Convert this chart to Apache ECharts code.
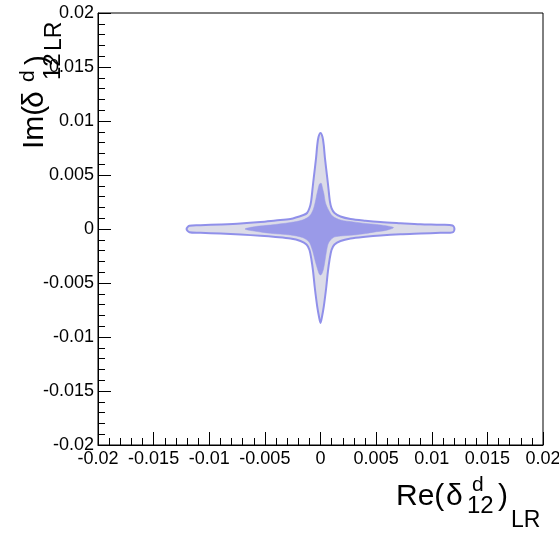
<!DOCTYPE html>
<html>
<head>
<meta charset="utf-8">
<script src="https://cdn.jsdelivr.net/npm/echarts@6/dist/echarts.min.js"></script>
<style>html,body{margin:0;padding:0;background:#fff;}#c{width:559px;height:533px;}</style>
</head>
<body>
<div id="c"></div>
<script>
// Axis ticks
const axisMin = -0.02, axisMax = 0.02, axisStep = 0.005;

// Outer (light) contour outline, data coordinates
const outerX = [
  0.01204, 0.01187, 0.01079, 0.00899, 0.00719, 0.00539, 0.00404, 0.0027, 0.0018, 0.00126, 0.00099, 0.00084, 0.0007, 0.00061, 0.0004, 0.00029, 0.00018, 0,
  -0.00018, -0.00029, -0.0004, -0.00061, -0.0007, -0.00084, -0.00099, -0.00121, -0.00153, -0.0027, -0.00404, -0.00539, -0.00719, -0.00899, -0.01079, -0.01178, -0.01204,
  -0.01178, -0.01079, -0.00899, -0.00719, -0.00539, -0.00404, -0.0027, -0.0018, -0.00126, -0.00099, -0.00081, -0.00067, -0.00052, -0.00029, -0.00013, 0,
  0.00013, 0.00029, 0.00052, 0.00067, 0.00081, 0.00099, 0.00126, 0.0018, 0.0027, 0.00404, 0.00539, 0.00719, 0.00899, 0.01079, 0.01187
];
const outerY = [
  0, 0.00033, 0.00039, 0.00044, 0.00054, 0.00065, 0.00077, 0.00093, 0.00116, 0.00148, 0.00194, 0.00259, 0.00389, 0.00472, 0.00657, 0.00778, 0.00852, 0.00889,
  0.00852, 0.00778, 0.00657, 0.00472, 0.00389, 0.00259, 0.00194, 0.00148, 0.0013, 0.00093, 0.00079, 0.00065, 0.00051, 0.00042, 0.00035, 0.0003, 0,
  -0.0003, -0.00035, -0.00042, -0.00051, -0.00063, -0.00074, -0.00088, -0.00111, -0.00144, -0.00194, -0.00287, -0.00389, -0.00537, -0.00722, -0.00815, -0.0087,
  -0.00815, -0.00722, -0.00537, -0.00389, -0.00287, -0.00194, -0.00144, -0.00111, -0.00088, -0.00072, -0.0006, -0.00049, -0.00042, -0.00035, -0.00031
];

// Inner (dark) contour outline, data coordinates
const innerX = [
  0.00656, 0.00503, 0.00404, 0.00297, 0.0018, 0.00108, 0.00072, 0.00045, 0.00031, 0.00016, 0.00007,
  -0.00009, -0.00022, -0.00036, -0.00049, -0.00067, -0.00099, -0.00162, -0.0027, -0.00449, -0.00584, -0.00679,
  -0.00584, -0.00449, -0.0027, -0.00162, -0.00103, -0.00076, -0.00063, -0.00045, -0.00027, -0.00011, 0,
  0.00011, 0.00027, 0.0004, 0.00054, 0.00072, 0.00115, 0.0018, 0.00297, 0.00404, 0.00503, 0.00584
];
const innerY = [
  0.00014, 0.00042, 0.00051, 0.00065, 0.00083, 0.0012, 0.00176, 0.00241, 0.00324, 0.00389, 0.00423,
  0.00417, 0.0037, 0.00306, 0.00241, 0.00176, 0.0012, 0.00083, 0.0006, 0.00037, 0.00023, 0,
  -0.00021, -0.0004, -0.00056, -0.00079, -0.0012, -0.00185, -0.00231, -0.00306, -0.0037, -0.00417, -0.00426,
  -0.00417, -0.0037, -0.00296, -0.00204, -0.0013, -0.00079, -0.00065, -0.00056, -0.00042, -0.00025, -0.00014
];

const FONT = 'Liberation Sans';
const outerPts = outerX.map((x, i) => [x, outerY[i]]);
const innerPts = innerX.map((x, i) => [x, innerY[i]]);

function fmt(v) { return String(parseFloat(Number(v).toFixed(4))); }

function contour(pts, fill, stroke, lw, smooth) {
  return {
    type: 'custom',
    coordinateSystem: 'cartesian2d',
    data: pts,
    clip: true,
    silent: true,
    renderItem: function (params, api) {
      if (params.dataIndex !== 0) return null;
      const p = pts.map(q => api.coord(q));
      return {
        type: 'polygon',
        shape: { points: p, smooth: smooth },
        style: { fill: fill, stroke: stroke, lineWidth: lw }
      };
    }
  };
}

function axisCfg() {
  return {
    type: 'value', min: axisMin, max: axisMax, interval: axisStep,
    axisLine: { show: true, onZero: false, lineStyle: { color: '#000', width: 1 } },
    axisTick: { show: true, inside: true, length: 13, lineStyle: { color: '#000', width: 1 } },
    minorTick: { show: true, splitNumber: 5, length: 7, lineStyle: { color: '#000', width: 1 } },
    splitLine: { show: false },
    minorSplitLine: { show: false },
    axisLabel: { fontSize: 18, color: '#000', fontFamily: FONT, margin: 5, formatter: fmt }
  };
}

function piece(text, x, y, size, rot) {
  return {
    type: 'text', x: x, y: y, rotation: rot || 0, silent: true, z: 100,
    style: { text: text, fontSize: size, fontFamily: FONT, fill: '#000', align: 'left', verticalAlign: 'middle' }
  };
}
const R = Math.PI / 2;

const chart = echarts.init(document.getElementById('c'), null, { renderer: 'canvas' });
const xa = axisCfg();
const ya = axisCfg();
ya.axisLabel.margin = 4;
chart.setOption({
  animation: false,
  backgroundColor: '#fff',
  grid: { left: 98, right: 16, top: 13, bottom: 88, show: true, borderColor: '#000', borderWidth: 1, backgroundColor: 'transparent', containLabel: false, outerBoundsMode: 'none' },
  xAxis: xa,
  yAxis: ya,
  series: [
    contour(outerPts, '#dcdce8', '#9090ea', 2, 0.3),
    contour(innerPts, '#9a9ae8', '#9a9ae8', 0.5, 0.3)
  ],
  graphic: [
    piece('Re(', 396, 497, 30),
    piece('δ', 446, 497, 30),
    piece('d', 472, 485, 21),
    piece('12', 467, 506, 24),
    piece(')', 498, 497, 30),
    piece('LR', 511, 521, 23),
    piece('Im(', 35, 149, 30, R),
    piece('δ', 35, 108, 30, R),
    piece('d', 28.5, 82, 21, R),
    piece('12', 53, 80, 24, R),
    piece(')', 38, 65, 30, R),
    piece('LR', 55, 51, 23, R)
  ]
});
</script>
</body>
</html>
